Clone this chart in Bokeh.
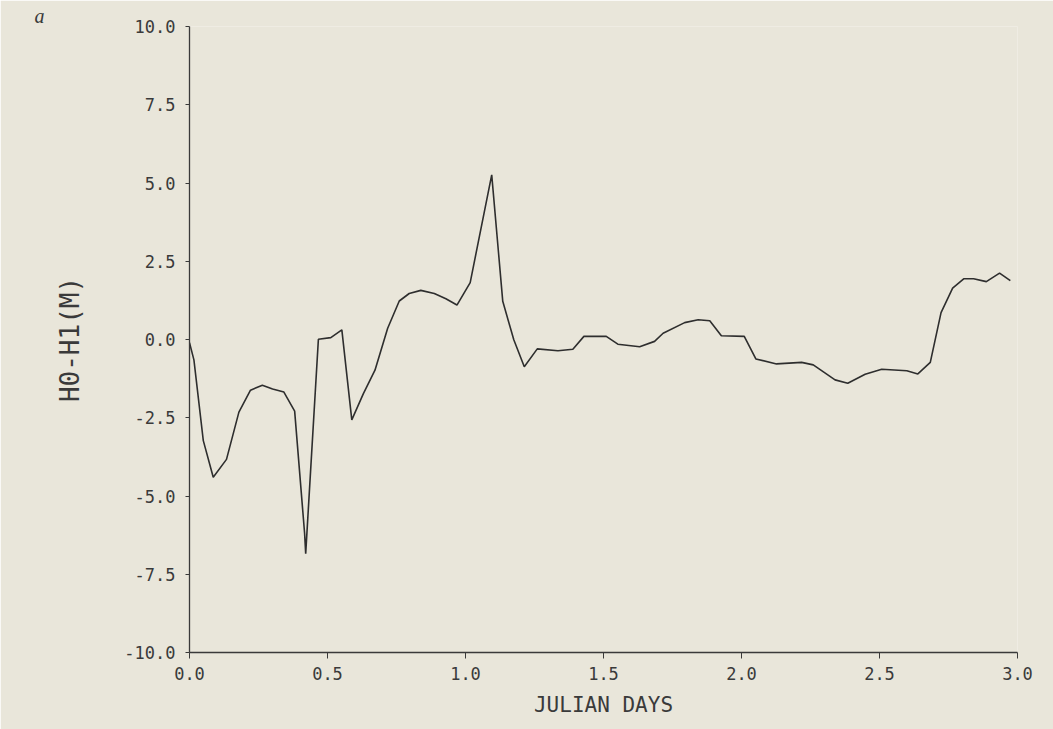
from bokeh.plotting import figure
from bokeh.models import Range1d, FixedTicker, NumeralTickFormatter, Title, ColumnDataSource
from bokeh.embed import file_html
from bokeh.resources import INLINE

# Julian days and H0-H1 (m)
days = [0.000, 0.016, 0.050, 0.086, 0.134, 0.179, 0.221, 0.264, 0.301, 0.342,
        0.381, 0.417, 0.421, 0.467, 0.512, 0.552, 0.588, 0.630, 0.672, 0.718,
        0.760, 0.796, 0.838, 0.887, 0.929, 0.969, 1.017, 1.095, 1.135, 1.175,
        1.213, 1.260, 1.335, 1.389, 1.429, 1.510, 1.552, 1.631, 1.685, 1.716,
        1.794, 1.843, 1.885, 1.927, 2.010, 2.052, 2.127, 2.218, 2.260, 2.339,
        2.385, 2.448, 2.508, 2.599, 2.639, 2.684, 2.723, 2.765, 2.805, 2.841,
        2.887, 2.935, 2.974]
h_diff = [-0.10, -0.65, -3.23, -4.40, -3.83, -2.32, -1.62, -1.46, -1.58, -1.68,
          -2.29, -6.19, -6.84, 0.01, 0.06, 0.31, -2.57, -1.73, -0.98, 0.36,
          1.23, 1.47, 1.57, 1.47, 1.30, 1.10, 1.82, 5.26, 1.22, -0.01,
          -0.87, -0.30, -0.36, -0.31, 0.10, 0.10, -0.15, -0.23, -0.06, 0.20,
          0.54, 0.63, 0.60, 0.12, 0.10, -0.62, -0.78, -0.73, -0.81, -1.29,
          -1.40, -1.11, -0.95, -1.00, -1.10, -0.73, 0.86, 1.64, 1.94, 1.94,
          1.85, 2.12, 1.88]

x_ticks = [0.0, 0.5, 1.0, 1.5, 2.0, 2.5, 3.0]
y_ticks = [-10.0, -7.5, -5.0, -2.5, 0.0, 2.5, 5.0, 7.5, 10.0]

BG = "#E9E6DA"
INK = "#3a3a3a"
FONT = "DejaVu Sans Mono"

p = figure(width=1053, height=729, output_backend="svg", toolbar_location=None,
           x_range=Range1d(0, 3.0), y_range=Range1d(-10, 10),
           min_border_left=189, min_border_right=36,
           min_border_top=26, min_border_bottom=77)
p.background_fill_color = BG
p.border_fill_color = BG
p.outline_line_color = None
p.grid.visible = False

src = ColumnDataSource(dict(x=days, y=h_diff))
p.line("x", "y", source=src, line_color="#2e2e2e", line_width=1.6)

# x axis
xa = p.xaxis[0]
xa.ticker = FixedTicker(ticks=x_ticks)
xa.formatter = NumeralTickFormatter(format="0.0")
xa.axis_line_color = INK
xa.axis_line_width = 1.3
xa.major_tick_line_color = INK
xa.major_tick_out = 6
xa.major_tick_in = 0
xa.minor_tick_line_color = None
xa.major_label_text_font = FONT
xa.major_label_text_font_size = "17px"
xa.major_label_text_color = INK
xa.major_label_standoff = 8
xa.axis_label = "JULIAN DAYS"
xa.axis_label_text_font = FONT
xa.axis_label_text_font_size = "21px"
xa.axis_label_text_font_style = "normal"
xa.axis_label_text_color = INK
xa.axis_label_standoff = 10

# y axis
ya = p.yaxis[0]
ya.ticker = FixedTicker(ticks=y_ticks)
ya.formatter = NumeralTickFormatter(format="0.0")
ya.axis_line_color = INK
ya.axis_line_width = 1.3
ya.major_tick_line_color = INK
ya.major_tick_out = 4
ya.major_tick_in = 0
ya.minor_tick_line_color = None
ya.major_label_text_font = FONT
ya.major_label_text_font_size = "17px"
ya.major_label_text_color = INK
ya.major_label_standoff = 10
ya.axis_label = "H0-H1(M)"
ya.axis_label_text_font = FONT
ya.axis_label_text_font_size = "26px"
ya.axis_label_text_font_style = "normal"
ya.axis_label_text_color = INK
ya.axis_label_standoff = 36

p.add_layout(Title(text="a", align="left", offset=-155, standoff=0,
                   text_font="Liberation Serif", text_font_style="italic",
                   text_font_size="20px", text_color=INK), "above")

open("out.html", "w").write(file_html(p, INLINE))
